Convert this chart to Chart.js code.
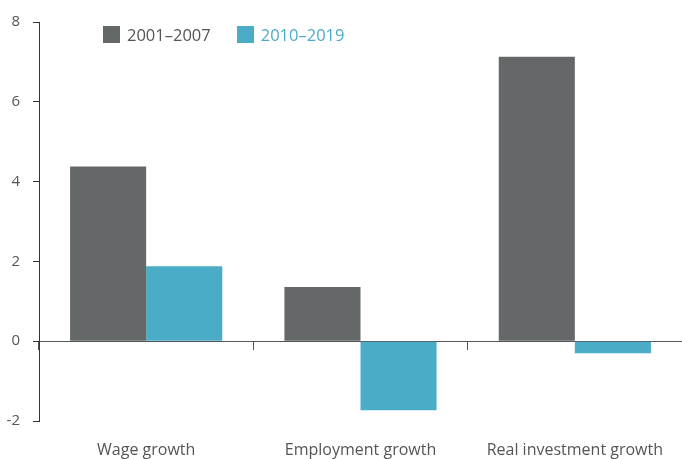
<!DOCTYPE html>
<html>
<head>
<meta charset="utf-8">
<script src="https://cdn.jsdelivr.net/npm/chart.js@4/dist/chart.umd.min.js"></script>
<style>
    html, body { margin: 0; padding: 0; background: #fff; }
    #wrap { position: relative; width: 682px; height: 459px; }
    #legend {
        position: absolute; left: 103px; top: 23px;
        font-family: "Open Sans", sans-serif; font-size: 16.5px;
        display: flex; align-items: center;
    }
    #legend span.box { display: inline-block; width: 17px; height: 17px; margin-right: 7px; }
    #legend span.item { display: inline-flex; align-items: center; margin-right: 26px; }
</style>
</head>
<body>
<div id="wrap">
    <canvas id="chart" width="682" height="459"></canvas>
    <div id="legend"></div>
</div>
<script>
// Chart data
const categories = ['Wage growth', 'Employment growth', 'Real investment growth'];
const seriesNames = ['2001–2007', '2010–2019'];
const values2001 = [4.38, 1.36, 7.13];
const values2010 = [1.88, -1.73, -0.30];
const yTicks = [-2, 0, 2, 4, 6, 8];

const grayColor = '#646869';
const tealColor = '#4aacc7';
const textColor = '#555555';

// Legend (HTML, overlaid on the chart area)
const legendEl = document.getElementById('legend');
[[seriesNames[0], grayColor, textColor], [seriesNames[1], tealColor, tealColor]].forEach(item => {
    const span = document.createElement('span');
    span.className = 'item';
    span.innerHTML = '<span class="box" style="background:' + item[1] + '"></span>' +
        '<span style="color:' + item[2] + '">' + item[0] + '</span>';
    legendEl.appendChild(span);
});

const chart = new Chart(document.getElementById('chart'), {
    type: 'bar',
    data: {
        labels: categories,
        datasets: [
            {
                label: seriesNames[0],
                data: values2001,
                backgroundColor: grayColor,
                borderWidth: 0
            },
            {
                label: seriesNames[1],
                data: values2010,
                backgroundColor: tealColor,
                borderWidth: 0
            }
        ]
    },
    options: {
        responsive: false,
        animation: false,
        datasets: {
            bar: {
                categoryPercentage: 0.71,
                barPercentage: 1.0
            }
        },
        layout: {
            padding: { top: 18, right: 0, bottom: 0, left: 0 }
        },
        scales: {
            x: {
                position: 'bottom',
                grid: { display: false },
                border: { display: false },
                ticks: {
                    color: textColor,
                    padding: 12,
                    font: { family: 'Open Sans', size: 16 }
                },
                afterFit: scale => { scale.height = 38; }
            },
            // zero line with the category separators below it
            x2: {
                type: 'category',
                labels: categories,
                position: { y: 0 },
                offset: true,
                ticks: { display: false },
                grid: {
                    offset: true,
                    drawOnChartArea: false,
                    drawTicks: true,
                    tickLength: 8,
                    color: '#555555',
                    lineWidth: 1
                },
                border: { display: true, color: '#555555', width: 1 }
            },
            y: {
                min: -2,
                max: 8,
                afterBuildTicks: scale => {
                    scale.ticks = yTicks.map(v => ({ value: v }));
                },
                grid: {
                    drawOnChartArea: false,
                    drawTicks: true,
                    tickLength: 6,
                    color: '#333333'
                },
                border: { display: true, color: '#333333', width: 1 },
                ticks: {
                    color: textColor,
                    padding: 13,
                    font: { family: 'Open Sans', size: 15 }
                },
                afterFit: scale => { scale.width = 39; }
            }
        },
        plugins: {
            legend: { display: false },
            tooltip: { enabled: false }
        }
    }
});
</script>
</body>
</html>
